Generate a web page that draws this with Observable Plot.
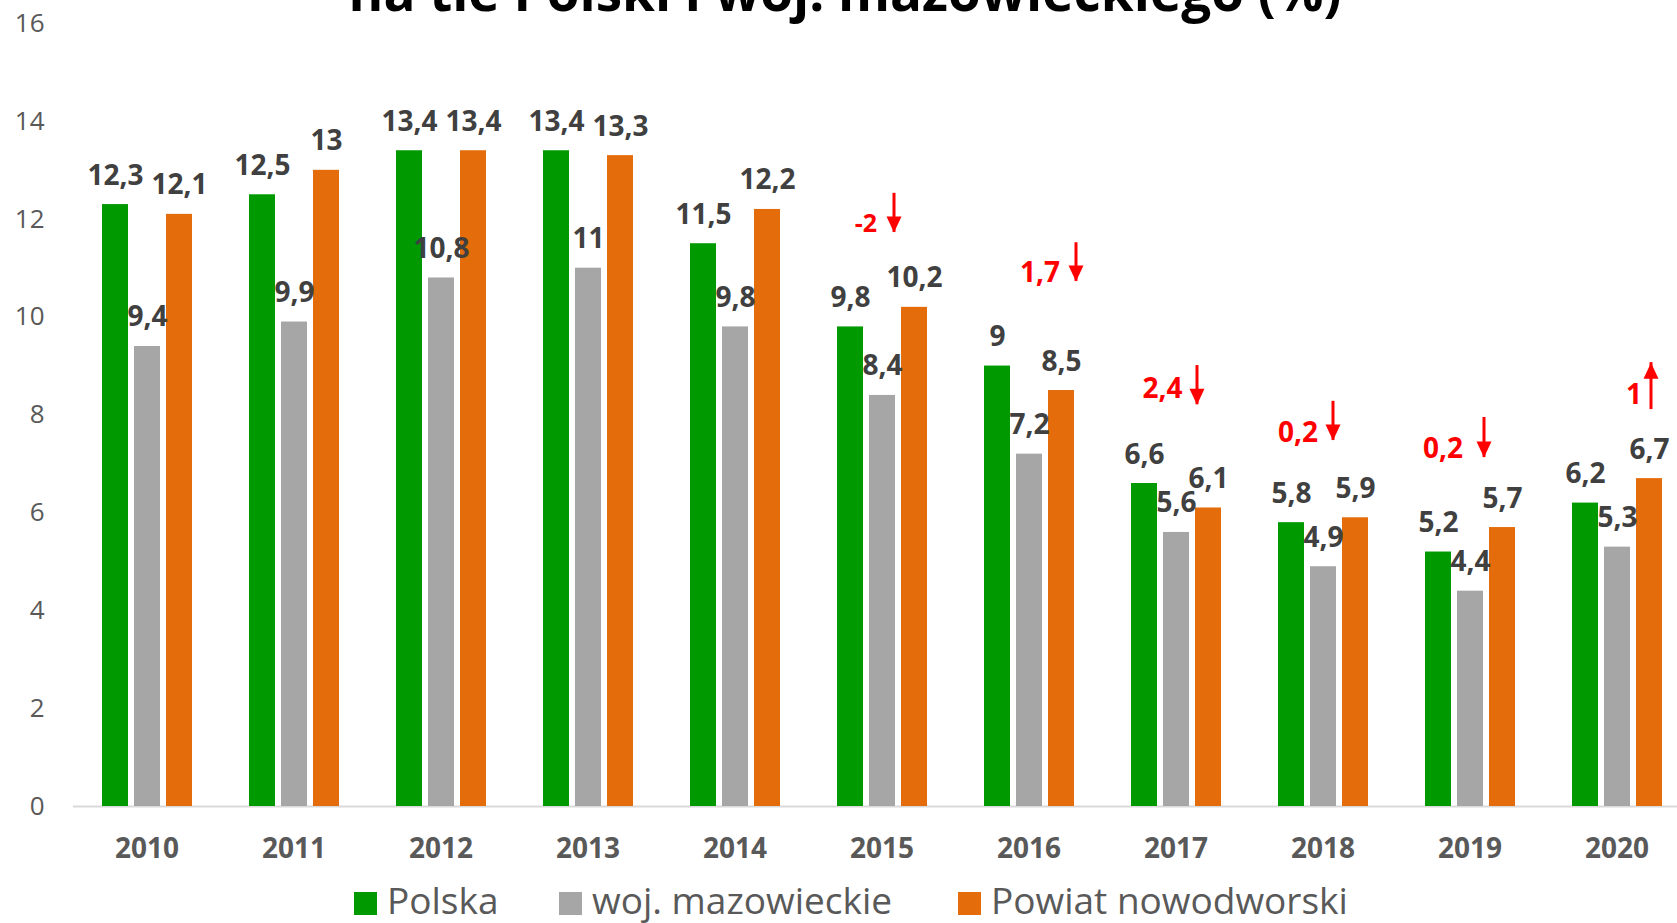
<!DOCTYPE html>
<html><head><meta charset="utf-8">
<script src="https://cdn.jsdelivr.net/npm/d3@7"></script>
<script src="https://cdn.jsdelivr.net/npm/@observablehq/plot@0.6"></script>
<style>
html,body{margin:0;padding:0;background:#fff;overflow:hidden;}
#wrap{position:relative;width:1677px;height:923px;overflow:hidden;font-family:"Open Sans",sans-serif;background:#fff;}
#title{position:absolute;left:0;width:1690px;top:-36px;text-align:center;font-size:53px;line-height:53px;font-weight:700;color:#000;white-space:nowrap;z-index:2;}
#chart{position:absolute;left:0;top:0;}
#legend{position:absolute;left:0;top:870px;width:1677px;height:53px;}
.sw{position:absolute;top:22px;width:23px;height:23px;}
.lab{position:absolute;top:3.5px;font-size:37px;color:#595959;line-height:normal;white-space:nowrap;}
svg g[aria-label^="fx-axis"] text{font-size:28px;font-weight:700;fill:#595959;}
svg g[aria-label^="y-axis"] text{font-size:26px;fill:#595959;}
</style>
</head><body>
<div id="wrap">
  <div id="title">na tle Polski i woj. mazowieckiego (%)</div>
  <div id="chart"></div>
  <div id="legend"></div>
</div>
<script>
// ---- data ----
const years = ["2010","2011","2012","2013","2014","2015","2016","2017","2018","2019","2020"];
const series = ["Polska","woj. mazowieckie","Powiat nowodworski"];
const polska = [12.3,12.5,13.4,13.4,11.5,9.8,9,6.6,5.8,5.2,6.2];
const mazowieckie = [9.4,9.9,10.8,11,9.8,8.4,7.2,5.6,4.9,4.4,5.3];
const nowodworski = [12.1,13,13.4,13.3,12.2,10.2,8.5,6.1,5.9,5.7,6.7];
const yTicks = [0,2,4,6,8,10,12,14,16];
const seriesColors = ["#009900","#a6a6a6","#e46c0a"];

// change annotations (powiat, year over year)
const changeYears = ["2015","2016","2017","2018","2019","2020"];
const changeLabels = ["-2","1,7","2,4","0,2","0,2","1"];
const changeDirections = ["down","down","down","down","down","up"];
// annotation anchor levels in data units
const changeLabelLevel = [11.73,10.71,8.34,7.44,7.13,8.23];
const changeArrowFrom = [12.53,11.52,9.01,8.28,7.95,8.11];
const changeArrowTo = [11.73,10.73,8.21,7.48,7.13,9.07];
// layout: horizontal pixel offsets from group centre
const labelOffsets = [-16.5,10.5,-14,-25.5,-27.5,16.5];
const arrowOffsets = [11.5,46.5,20.5,9.5,13.5,33.5];

// ---- build rows ----
const valuesBySeries = [polska, mazowieckie, nowodworski];
const rows = [];
years.forEach((year, i) => {
  series.forEach((s, j) => rows.push({year, series: s, value: valuesBySeries[j][i]}));
});
const fmt = v => String(v).replace(".", ",");

const triDown = {draw(ctx){ctx.moveTo(0,0);ctx.lineTo(-7.5,-16);ctx.lineTo(7.5,-16);ctx.closePath();}};
const triUp = {draw(ctx){ctx.moveTo(0,0);ctx.lineTo(-7.5,16);ctx.lineTo(7.5,16);ctx.closePath();}};

const annMarks = changeYears.flatMap((year, i) => {
  const a = {year, label: changeLabels[i], labelY: changeLabelLevel[i], from: changeArrowFrom[i], to: changeArrowTo[i]};
  const mid = () => series[1];
  return [
    Plot.text([a], {fx: "year", x: mid, y: "labelY", text: "label", dx: labelOffsets[i], lineAnchor: "bottom",
      fill: "#ff0000", fontSize: i === 0 ? 25 : 28, fontWeight: 700}),
    Plot.ruleX([a], {fx: "year", x: mid, y1: "from", y2: "to", dx: arrowOffsets[i], stroke: "#ff0000", strokeWidth: 3}),
    Plot.dot([a], {fx: "year", x: mid, y: "to", dx: arrowOffsets[i], symbol: changeDirections[i] === "down" ? triDown : triUp,
      fill: "#ff0000", stroke: "none", r: 6})
  ];
});

const chart = Plot.plot({
  width: 1677,
  height: 870,
  marginTop: 23,
  marginBottom: 64,
  marginLeft: 73,
  marginRight: 0,
  style: {fontFamily: "Open Sans, sans-serif", fontSize: "26px", color: "#595959", background: "white", overflow: "visible"},
  fx: {domain: years, range: [73, 1690], padding: 0, axis: "bottom", tickSize: 0, tickPadding: 32, label: null},
  x: {domain: series, axis: null, paddingInner: 0.2, paddingOuter: 0.86},
  y: {domain: [0, 16], ticks: yTicks, tickSize: 0, tickPadding: 29, label: null},
  color: {domain: series, range: seriesColors},
  marks: [
    Plot.ruleY([0], {stroke: "#d9d9d9", strokeWidth: 2}),
    Plot.barY(rows, {fx: "year", x: "series", y: "value", fill: "series"}),
    Plot.text(rows, {fx: "year", x: "series", y: "value", text: d => fmt(d.value), dy: -20, lineAnchor: "bottom",
      fill: "#404040", fontSize: 28, fontWeight: 700}),
    ...annMarks
  ]
});
document.getElementById("chart").appendChild(chart);

// legend
const legendLeft = [354, 559, 958];
const legend = document.getElementById("legend");
series.forEach((s, j) => {
  const sw = document.createElement("div");
  sw.className = "sw";
  sw.style.left = legendLeft[j] + "px";
  sw.style.background = seriesColors[j];
  const lab = document.createElement("span");
  lab.className = "lab";
  lab.style.left = (legendLeft[j] + 33) + "px";
  lab.textContent = s;
  legend.appendChild(sw); legend.appendChild(lab);
});
</script>
</body></html>
